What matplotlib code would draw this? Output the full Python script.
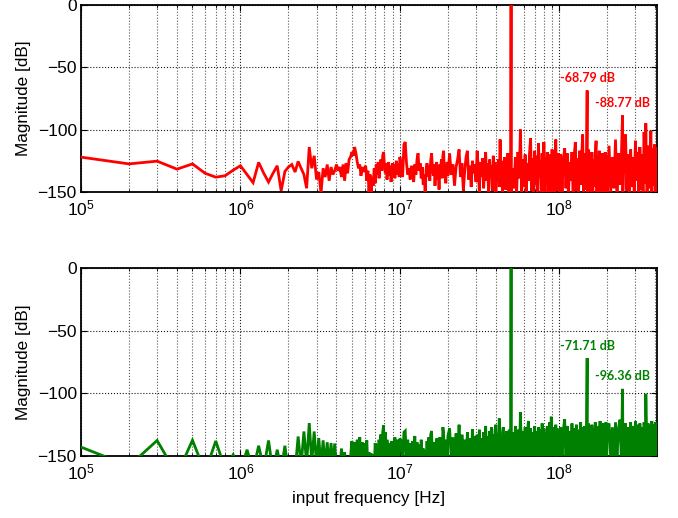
import numpy as np
import matplotlib
matplotlib.use("Agg")
import matplotlib.pyplot as plt
from matplotlib.ticker import LogLocator, FixedLocator, NullFormatter

plt.rcParams['font.family'] = ['Liberation Sans', 'DejaVu Sans']
plt.rcParams['mathtext.fontset'] = 'custom'
plt.rcParams['mathtext.rm'] = 'Liberation Sans'
plt.rcParams['mathtext.it'] = 'Liberation Sans:italic'
plt.rcParams['mathtext.bf'] = 'Liberation Sans:bold'

# Decimated FFT bin grid (MHz): each segment runs from its left edge (exclusive)
# to its right edge (inclusive) with its own step.
seg_edges_mhz = [0.0, 10.0, 20.0, 50.0, 100.0, 200.0, 410.0]
seg_step_mhz = [0.1, 0.2, 0.5, 1.0, 2.0, 5.0]

# Tone and harmonic positions (MHz)
tone_mhz = [49.8, 149.4, 249.0, 348.6]

# ---- Spectrum 1 (red), dB per segment ----
red_seg0 = [-122.1, -127.5, -125.3, -131.7, -127.5, -135.0, -138.1, -137.0, -132.5, -129.0,
            -136, -142.5, -126.3, -135, -142, -135, -129, -149, -133.5, -130,
            -128, -134, -125.5, -131, -136, -147, -114, -131, -121, -140,
            -134, -151, -131, -138, -128, -141, -130, -136, -133, -128,
            -133, -130, -138, -128, -141, -127, -135, -124, -122, -118,
            -121, -114, -119, -126, -131, -128, -137, -130, -134, -131,
            -129, -141, -133, -150, -136, -152, -138, -145, -131, -143,
            -128, -136, -126, -139, -130, -124, -133, -121, -118, -129,
            -135, -127, -140, -131, -126, -137, -129, -142, -132, -127,
            -134, -128, -139, -130, -125, -136, -131, -127, -138, -122]
red_seg1 = [-131, -138, -112, -110, -127, -136, -131, -140, -129, -134,
            -142, -128, -136, -124, -119, -133, -127, -139, -130, -144,
            -136, -151, -132, -127, -138, -129, -141, -125, -119, -131,
            -137, -128, -145, -133, -126, -140, -130, -148, -128, -135,
            -124, -139, -121, -117, -134, -128, -143, -131, -126, -137]
red_seg2 = [-119, -136, -128, -145, -130, -124, -116, -138, -127, -149,
            -133, -122, -117, -140, -129, -146, -125, -135, -128, -142,
            -117, -131, -150, -126, -138, -123, -147, -130, -118, -141,
            -127, -152, -124, -136, -129, -149, -121, -133, -126, -151,
            -128, -139, -124, -146, -108, -135, -125, -152, -129, -140,
            -122, -148, -127, -137, -119, -150, -126, -143, -131, -153]
red_seg3 = [-131, -147, -122, -150, -118, -139, -100, -152, -124, -146,
            -120, -153, -127, -141, -119, -107, -149, -123, -151, -117,
            -144, -121, -155, -111, -138, -125, -150, -119, -147, -110,
            -153, -122, -140, -118, -152, -124, -145, -120, -154, -116,
            -139, -123, -151, -121, -108, -149, -126, -143, -119, -155]
red_seg4 = [-120, -150, -124, -115, -147, -119, -153, -126, -141, -118,
            -155, -121, -110, -149, -123, -152, -117, -144, -122, -104,
            -153, -119, -148, -125, -150, -116, -154, -121, -142, -118,
            -151, -124, -146, -120, -109, -155, -122, -140, -117, -150,
            -121, -153, -119, -145, -123, -152, -118, -147, -121, -154]
red_seg5 = [-113, -150, -122, -147, -108, -154, -119, -144, -121, -153,
            -117, -104, -149, -120, -155, -116, -146, -122, -152, -109,
            -141, -118, -153, -114, -148, -120, -155, -102, -143, -117,
            -151, -113, -147, -119, -101, -154, -115, -145, -112, -152,
            -114, -148]
red_tone_db = [0.0, -68.79, -88.77, -95.0]

# ---- Spectrum 2 (green), dB per segment ----
green_seg0 = [-142.9, -158, -137.6, -165, -137.4, -163, -138, -160, -149, -162,
              -145, -162, -141.8, -160, -137.6, -163, -145, -161, -141.8, -164,
              -152, -162, -134.4, -158, -130.4, -156, -123.7, -155, -130.4, -157,
              -135.7, -158, -137.5, -159, -139, -160, -139.6, -160, -140, -161,
              -156, -161, -144, -158, -147, -162, -155, -160, -151, -138,
              -155, -139, -152, -137, -158, -135, -154, -139, -157, -140,
              -153, -137.5, -160, -147, -158, -148, -162, -149, -159, -139.6,
              -156, -141, -153, -137, -152, -132.8, -155, -131, -125.6, -154,
              -131, -157, -137, -153, -139.6, -158, -141, -154, -138, -156,
              -140, -152, -135, -157, -139, -153, -137, -155, -140, -136]
green_seg1 = [-138, -156, -131, -130, -158, -137, -155, -140, -160, -138,
              -154, -134, -157, -139, -152, -141, -158, -137, -155, -144,
              -160, -146, -153, -138, -157, -135, -152, -133, -130, -156,
              -139, -154, -141, -159, -136, -153, -140, -157, -135, -152,
              -138, -156, -127, -132, -155, -137, -153, -140, -158, -134]
green_seg2 = [-128, -153, -135, -157, -132, -150, -125, -155, -133, -152,
              -137, -158, -131, -154, -136, -156, -128.5, -151, -134, -157,
              -133, -152, -129, -155, -136, -158, -131, -150, -126, -154,
              -134, -157, -130, -152, -127, -156, -133, -151, -129, -125,
              -155, -132, -158, -120, -153, -134, -156, -131, -127, -152,
              -135, -157, -130, -154, -133, -158, -129, -151, -132, -155]
green_seg3 = [-131, -156, -126, -153, -129, -158, -115, -152, -130, -155,
              -127, -150, -132, -122, -157, -128, -153, -131, -156, -126,
              -151, -130, -155, -127, -158, -129, -152, -124, -154, -128,
              -157, -131, -150, -126, -155, -129, -123, -153, -118.6, -156,
              -127, -151, -130, -154, -125, -157, -128, -152, -131, -155]
green_seg4 = [-127, -154, -129, -120.5, -156, -126, -151, -130, -157, -124,
              -153, -128, -155, -125, -150, -129, -156, -123, -152, -127,
              -157, -126, -151, -130, -155, -124, -158, -127, -152, -125,
              -156, -128, -150, -123, -154, -129, -157, -126, -151, -122,
              -155, -127, -153, -124, -158, -128, -152, -123, -156, -126]
green_seg5 = [-124, -153, -127, -156, -123, -151, -128, -121, -155, -126,
              -152, -124, -157, -127, -150, -123, -154, -126, -158, -122,
              -151, -125, -156, -124, -153, -127, -157, -123, -152, -108,
              -155, -124, -150, -126, -154, -122, -157, -125, -151, -123,
              -156, -124]
green_tone_db = [0.0, -71.71, -96.36, -100.3]

# Harmonics carrying a value label: (index into tone arrays)
labelled = [1, 2]


def bin_grid_hz():
    parts = []
    for lo, hi, step in zip(seg_edges_mhz[:-1], seg_edges_mhz[1:], seg_step_mhz):
        parts.append(np.round(np.arange(lo + step, hi + step / 2, step), 3))
    return np.concatenate(parts) * 1e6


def spectrum(segments, tone_db):
    f = np.concatenate([bin_grid_hz(), np.asarray(tone_mhz) * 1e6])
    v = np.concatenate([np.concatenate([np.asarray(s, float) for s in segments]),
                        np.asarray(tone_db, float)])
    order = np.argsort(f)
    return f[order], v[order]


fig = plt.figure(figsize=(6.78, 5.18), dpi=100)
ax_top = fig.add_axes([0.1195, 0.6293, 0.8496, 0.3620])
ax_bot = fig.add_axes([0.1195, 0.1197, 0.8496, 0.3623])

series = [
    (ax_top, [red_seg0, red_seg1, red_seg2, red_seg3, red_seg4, red_seg5], red_tone_db, '#ff0000'),
    (ax_bot, [green_seg0, green_seg1, green_seg2, green_seg3, green_seg4, green_seg5], green_tone_db, '#008000'),
]

for ax, segs, tdb, col in series:
    f, v = spectrum(segs, tdb)
    ax.plot(f, v, color=col, lw=2.0, solid_joinstyle='miter', zorder=3)

    ax.set_xscale('log')
    ax.set_xlim(1e5, 4.1e8)
    ax.set_ylim(-150, 0)
    ax.yaxis.set_major_locator(FixedLocator([-150, -100, -50, 0]))
    ax.xaxis.set_major_locator(LogLocator(base=10, numticks=10))
    ax.xaxis.set_minor_locator(LogLocator(base=10, subs=np.arange(2, 10), numticks=20))
    ax.xaxis.set_minor_formatter(NullFormatter())

    ax.grid(True, which='major', linestyle=':', color='0.1', linewidth=0.8, zorder=1)
    ax.grid(True, which='minor', axis='x', linestyle=':', color='0.35', linewidth=0.8, zorder=1)
    ax.set_axisbelow(True)

    ax.tick_params(which='both', direction='in', top=True, right=True)
    ax.tick_params(which='major', length=4, width=0.8, labelsize=12.5)
    ax.tick_params(which='minor', length=2.5, width=0.6)
    ax.tick_params(axis='y', pad=3)
    ax.tick_params(axis='x', pad=5)
    for s in ax.spines.values():
        s.set_linewidth(1.3)

    ax.set_ylabel('Magnitude [dB]', fontsize=12.3, labelpad=5)

    for i in labelled:
        ax.annotate(f'{tdb[i]:.2f} dB', xy=(tone_mhz[i] * 1e6, tdb[i]),
                    xytext=(0, 9), textcoords='offset points',
                    ha='center', va='center', color=col,
                    fontsize=9, fontweight='bold', family=['Lato', 'DejaVu Sans'],
                    zorder=4)

ax_bot.set_xlabel('input frequency [Hz]', fontsize=12.3, labelpad=6)

fig.savefig('out.png', dpi=100)
